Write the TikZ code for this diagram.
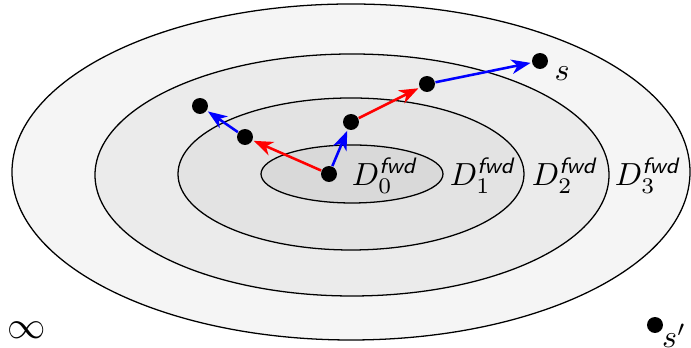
\documentclass[tikz,border=0pt]{standalone}
\usepackage{amsmath,amssymb}
\usetikzlibrary{arrows.meta,positioning}
\newcommand{\Dfwd}[1]{$D_{#1}^{\textsf{\textit{fwd}}}$}

\begin{document}
\begin{tikzpicture}[x=0.011cm, y=-0.011cm,
  dot/.style={circle,fill=black,inner sep=0pt,minimum size=5pt},
  region/.style={draw=black,line width=0.4pt},
  step arrow/.style={-{Stealth[length=6pt,width=4.5pt,inset=1.8pt]},line width=0.8pt,shorten >=0.3pt}]

\useasboundingbox (0,0) rectangle (691,348);

% Regions D_3 ... D_0
\draw[region,fill=black!4] (351,172) ellipse [x radius=339, y radius=168];
\draw[region,fill=black!8] (352,175) ellipse [x radius=257, y radius=121];
\draw[region,fill=black!11] (351,174) ellipse [x radius=173, y radius=76];
\draw[region,fill=black!15] (352,174) ellipse [x radius=91, y radius=29];

% Region labels
\node (d0) at (385,176) {\Dfwd{0}};
\node (d1) at (483,176) {\Dfwd{1}};
\node (d2) at (565,176) {\Dfwd{2}};
\node (d3) at (648,176) {\Dfwd{3}};

% States
\node[dot] (start) at (329,174) {};
\node[dot] (l1) at (245,137) {};
\node[dot] (l2) at (200,106) {};
\node[dot] (r1) at (351,122) {};
\node[dot] (r2) at (427,84) {};
\node[dot] (goal) at (540,61) {};
\node[dot] (far) at (655,325) {};

\node (goallabel) at (562,74) {$s$};
\node (farlabel) at (674,336) {$s'$};
\node (inf) at (27,330) {\large$\infty$};

% Steps
\draw[step arrow,red] (start) -- (l1);
\draw[step arrow,blue] (l1) -- (l2);
\draw[step arrow,blue] (start) -- (r1);
\draw[step arrow,red] (r1) -- (r2);
\draw[step arrow,blue] (r2) -- (goal);

\end{tikzpicture}
\end{document}
